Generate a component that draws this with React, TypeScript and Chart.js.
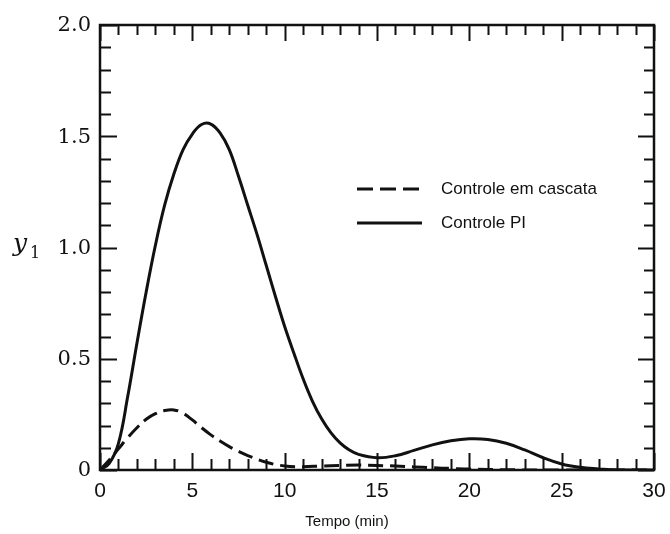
import React, { useEffect, useRef } from "react";
import { Chart, registerables } from "chart.js";

Chart.register(...registerables);

// ---- data ----
const piTime = [0, 0.5, 1, 1.5, 2, 2.5, 3, 3.5, 4, 4.5, 5, 5.5, 6, 6.5, 7, 7.5, 8, 8.5, 9, 9.5, 10, 10.5, 11, 11.5, 12, 12.5, 13, 13.5, 14, 15, 16, 17, 18, 19, 20, 21, 22, 23, 24, 25, 26, 27, 28, 30];
const piValues = [0, 0.03, 0.12, 0.33, 0.57, 0.8, 1.01, 1.19, 1.33, 1.44, 1.51, 1.553, 1.555, 1.515, 1.44, 1.32, 1.19, 1.06, 0.92, 0.78, 0.645, 0.525, 0.41, 0.31, 0.23, 0.168, 0.122, 0.09, 0.07, 0.055, 0.064, 0.088, 0.113, 0.131, 0.14, 0.137, 0.12, 0.09, 0.055, 0.027, 0.012, 0.005, 0, 0];

const cascTime = [0, 0.5, 1, 1.5, 2, 2.5, 3, 3.5, 4, 4.5, 5, 5.5, 6, 6.5, 7, 7.5, 8, 9, 10, 11, 12, 13, 14, 15, 16, 17, 18, 19, 20, 22, 25, 30];
const cascValues = [0, 0.045, 0.095, 0.145, 0.19, 0.228, 0.253, 0.267, 0.27, 0.255, 0.225, 0.19, 0.158, 0.13, 0.105, 0.084, 0.065, 0.035, 0.018, 0.015, 0.018, 0.02, 0.022, 0.02, 0.018, 0.014, 0.01, 0.007, 0.004, 0.001, 0, 0];

const xMajorTicks = [0, 5, 10, 15, 20, 25, 30];
const xTickLabels = ["0", "5", "10", "15", "20", "25", "30"];
const yMajorTicks = [0, 0.5, 1.0, 1.5, 2.0];
const yTickLabels = ["0", "0.5", "1.0", "1.5", "2.0"];
const legendLabels = ["Controle em cascata", "Controle PI"];
const xAxisTitle = "Tempo (min)";

const toPoints = (xs: number[], ys: number[]) => xs.map((x, i) => ({ x, y: ys[i] }));

const axesPlugin = {
  id: "customAxes",
  afterDraw(chart: any) {
    const ctx = chart.ctx as CanvasRenderingContext2D;
    const xs = chart.scales.x;
    const ys = chart.scales.y;
    const { left, right, top, bottom } = chart.chartArea;
    ctx.save();
    ctx.strokeStyle = "#111";
    ctx.fillStyle = "#111";
    // frame
    ctx.lineWidth = 2.5;
    ctx.strokeRect(left, top, right - left, bottom - top);
    ctx.lineWidth = 2;
    // x ticks (bottom and top)
    for (let v = 0; v <= 30; v += 1) {
      const major = v % 5 === 0;
      const px = Math.round(xs.getPixelForValue(v)) + 0.5;
      const lenB = major ? 17 : 11;
      const lenT = major ? 16 : 10;
      ctx.beginPath();
      ctx.moveTo(px, bottom);
      ctx.lineTo(px, bottom - lenB);
      ctx.moveTo(px, top);
      ctx.lineTo(px, top + lenT);
      ctx.stroke();
    }
    // y ticks (left and right)
    for (let i = 0; i <= 20; i++) {
      const v = i / 10;
      const major = i % 5 === 0;
      const py = Math.round(ys.getPixelForValue(v)) + 0.5;
      const lenL = major ? 17 : 11;
      const lenR = major ? 16 : 10;
      ctx.beginPath();
      ctx.moveTo(left, py);
      ctx.lineTo(left + lenL, py);
      ctx.moveTo(right, py);
      ctx.lineTo(right - lenR, py);
      ctx.stroke();
    }
    // x labels
    ctx.font = "21px 'Liberation Sans', Arial, sans-serif";
    ctx.textAlign = "center";
    ctx.textBaseline = "middle";
    xMajorTicks.forEach((v, i) => {
      ctx.fillText(xTickLabels[i], xs.getPixelForValue(v), bottom + 21);
    });
    // y labels
    ctx.font = "21px 'DejaVu Serif', serif";
    ctx.textAlign = "right";
    yMajorTicks.forEach((v, i) => {
      ctx.fillText(yTickLabels[i], left - 9, ys.getPixelForValue(v) + 1);
    });
    // x title
    ctx.font = "15px 'Liberation Sans', Arial, sans-serif";
    ctx.textAlign = "center";
    ctx.fillText(xAxisTitle, 347, bottom + 52);
    // y title: y1
    ctx.textAlign = "left";
    ctx.textBaseline = "alphabetic";
    ctx.font = "italic 25px 'DejaVu Serif', serif";
    ctx.fillText("y", 13, 251);
    ctx.font = "16px 'DejaVu Serif', serif";
    ctx.fillText("1", 30, 258);
    // legend
    ctx.lineWidth = 3;
    ctx.setLineDash([16, 7]);
    ctx.beginPath();
    ctx.moveTo(357, 189);
    ctx.lineTo(422, 189);
    ctx.stroke();
    ctx.setLineDash([]);
    ctx.beginPath();
    ctx.moveTo(357, 223);
    ctx.lineTo(422, 223);
    ctx.stroke();
    ctx.font = "17px 'Liberation Sans', Arial, sans-serif";
    ctx.textBaseline = "middle";
    ctx.fillText(legendLabels[0], 441, 189);
    ctx.fillText(legendLabels[1], 441, 223);
    ctx.restore();
  },
};

export default function App() {
  const ref = useRef<HTMLCanvasElement | null>(null);
  useEffect(() => {
    if (!ref.current) return;
    const chart = new Chart(ref.current, {
      type: "line",
      data: {
        datasets: [
          {
            label: legendLabels[0],
            data: toPoints(cascTime, cascValues),
            borderColor: "#111",
            borderWidth: 3,
            borderDash: [15, 7],
            pointRadius: 0,
            tension: 0.4,
            fill: false,
          },
          {
            label: legendLabels[1],
            data: toPoints(piTime, piValues),
            borderColor: "#111",
            borderWidth: 3,
            pointRadius: 0,
            tension: 0.4,
            fill: false,
          },
        ],
      },
      options: {
        responsive: false,
        animation: false,
        layout: { padding: { left: 100, top: 25, right: 16, bottom: 64 } },
        plugins: { legend: { display: false }, tooltip: { enabled: false } },
        scales: {
          x: { type: "linear", min: 0, max: 30, display: false },
          y: { type: "linear", min: 0, max: 2, display: false },
        },
      },
      plugins: [axesPlugin],
    } as any);
    return () => chart.destroy();
  }, []);
  return (
    <div style={{ position: "absolute", left: 0, top: 0, width: 670, height: 534, background: "#fff" }}>
      <canvas ref={ref} width={670} height={534} />
    </div>
  );
}
